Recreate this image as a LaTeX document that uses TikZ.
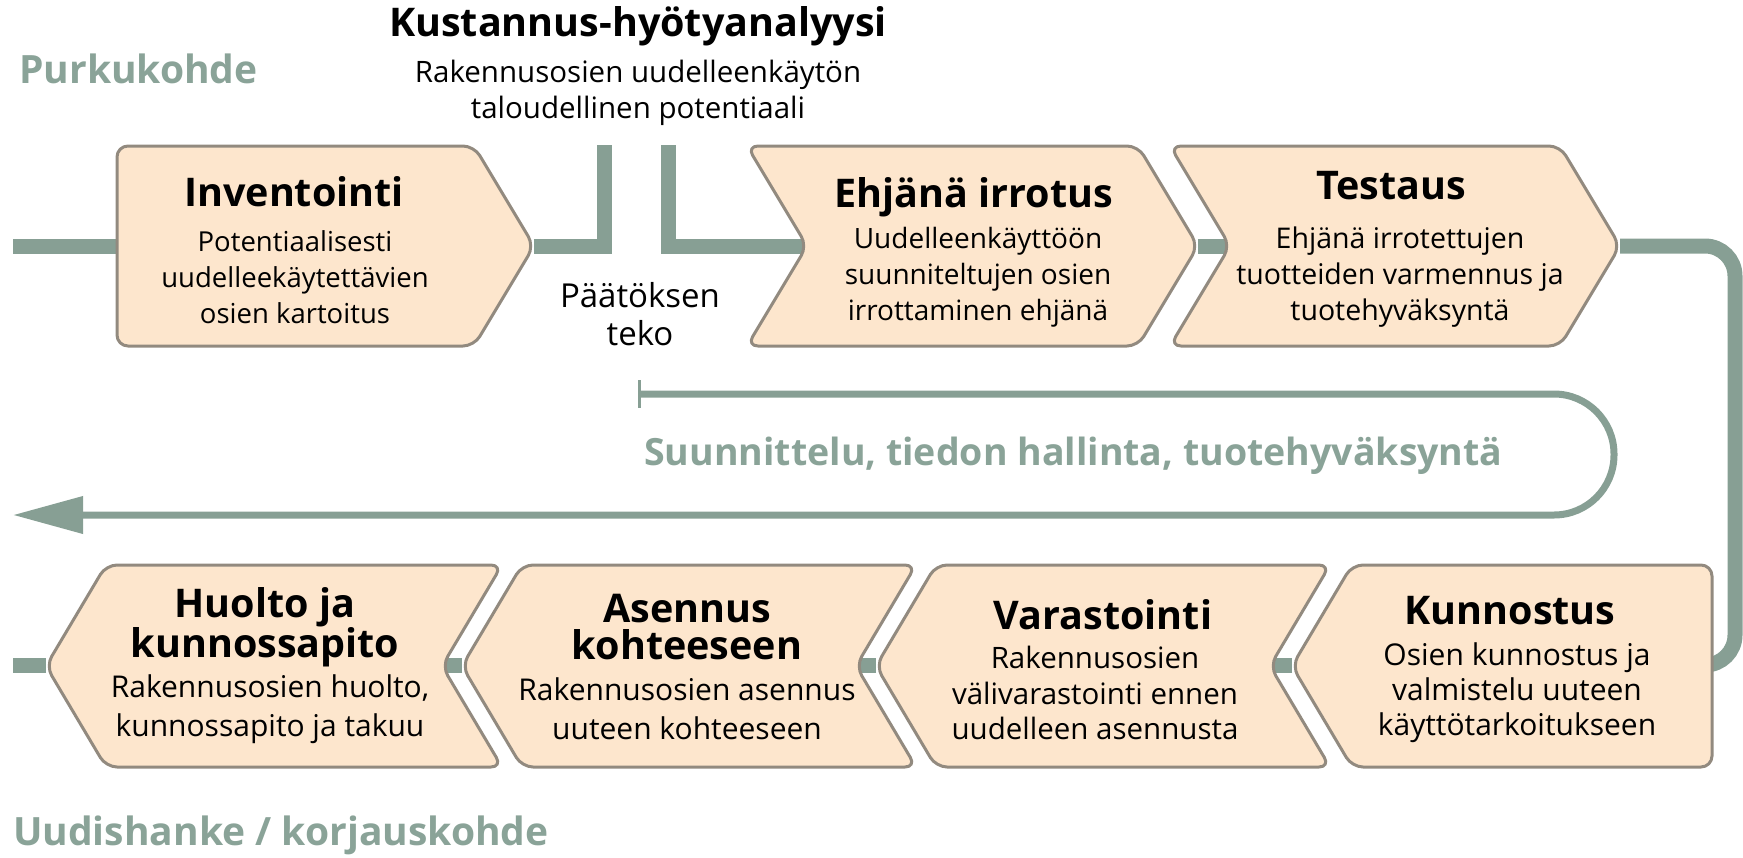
\documentclass[tikz,border=0pt]{standalone}
\usepackage{fontspec}
\setmainfont{Open Sans}
\usetikzlibrary{arrows.meta}
\definecolor{peach}{HTML}{FDE6CD}
\definecolor{edge}{HTML}{928A7F}
\definecolor{flow}{HTML}{879F94}
\definecolor{label}{HTML}{8AA398}
\begin{document}
\begin{tikzpicture}[x=1pt,y=-1pt,
  box/.style={fill=peach,draw=edge,line width=3pt,rounded corners=11pt},
  flowline/.style={draw=flow,line width=15pt,line join=miter},
  thinflow/.style={draw=flow,line width=7pt},
  ttl/.style={font=\fontsize{39.5}{37}\selectfont\bfseries,align=center,inner sep=0pt},
  body/.style={align=center,inner sep=0pt},
  side/.style={font=\fontsize{39}{44}\selectfont\bfseries,text=label,inner sep=0pt,anchor=west},
]
\useasboundingbox (0,0) rectangle (1743,857);
% ---------- coordinates ----------
\coordinate (inL) at (13,246);
\coordinate (invIn) at (130,246);
\coordinate (invT) at (534,246);
\coordinate (barA) at (604,246);
\coordinate (barAt) at (604,145);
\coordinate (barBt) at (668,145);
\coordinate (barB) at (668,246);
\coordinate (ehjN) at (807,246);
\coordinate (ehjT) at (1198,246);
\coordinate (tesN) at (1230,246);
\coordinate (tesT) at (1620,246);
\coordinate (loopA) at (1735,246);
\coordinate (loopB) at (1735,665);
\coordinate (kunR) at (1690,665);
\coordinate (kunT) at (1292,665);
\coordinate (varN) at (1270,665);
\coordinate (varT) at (876,665);
\coordinate (asnN) at (856,665);
\coordinate (asnT) at (462,665);
\coordinate (huoN) at (442,665);
\coordinate (huoT) at (46,665);
\coordinate (outL) at (13,665);
% ---------- flow lines ----------
\draw[flowline] (inL) -- (invIn);
\draw[flowline] (invT) -- (barA) -- (barAt);
\draw[flowline] (barBt) -- (barB) -- (ehjN);
\draw[flowline] (ehjT) -- (tesN);
\draw[flowline,rounded corners=30pt] (tesT) -- (loopA) -- (loopB) -- (kunR);
\draw[flowline] (kunT) -- (varN);
\draw[flowline] (varT) -- (asnN);
\draw[flowline] (asnT) -- (huoN);
\draw[flowline] (huoT) -- (outL);
% ---------- boxes ----------
\path[box] (117,146) -- (474,146) -- (534,246) -- (474,346) -- (117,346) -- cycle;
\path[box] (747,146) -- (1138,146) -- (1198,246) -- (1138,346) -- (747,346) -- (807,246) -- cycle;
\path[box] (1170,146) -- (1560,146) -- (1620,246) -- (1560,346) -- (1170,346) -- (1230,246) -- cycle;
\path[box] (46,666) -- (106,565) -- (502,565) -- (442,666) -- (502,767) -- (106,767) -- cycle;
\path[box] (462,666) -- (522,565) -- (916,565) -- (856,666) -- (916,767) -- (522,767) -- cycle;
\path[box] (876,666) -- (936,565) -- (1330,565) -- (1270,666) -- (1330,767) -- (936,767) -- cycle;
\path[box] (1292,666) -- (1352,565) -- (1712,565) -- (1712,767) -- (1352,767) -- cycle;
% ---------- box texts ----------
\node[ttl] (invH) at (294,192) {Inventointi};
\node[body,font=\fontsize{27.5}{36}\selectfont] (invB) at (295,277) {Potentiaalisesti\\uudelleekäytettävien\\osien kartoitus};
\node[ttl] (ehjH) at (974,197) {Ehjänä irrotus};
\node[body,font=\fontsize{28}{36}\selectfont] (ehjB) at (978,277) {Uudelleenkäyttöön\\suunniteltujen osien\\irrottaminen ehjänä};
\node[ttl] (tesH) at (1391,186) {Testaus};
\node[body,font=\fontsize{28.5}{36}\selectfont] (tesB) at (1400,277) {Ehjänä irrotettujen\\tuotteiden varmennus ja\\tuotehyväksyntä};
\node[ttl] (huoH) at (265,627) {Huolto ja\\kunnossapito};
\node[body,font=\fontsize{30}{39}\selectfont] (huoB) at (270,709) {Rakennusosien huolto,\\kunnossapito ja takuu};
\node[ttl] (asnH) at (687,627) {Asennus\\kohteeseen};
\node[body,font=\fontsize{30}{39}\selectfont] (asnB) at (687,709) {Rakennusosien asennus\\uuteen kohteeseen};
\node[ttl] (varH) at (1103,615) {Varastointi};
\node[body,font=\fontsize{29.5}{35.5}\selectfont] (varB) at (1095,693) {Rakennusosien\\välivarastointi ennen\\uudelleen asennusta};
\node[ttl] (kunH) at (1510,611) {Kunnostus};
\node[body,font=\fontsize{30}{35}\selectfont] (kunB) at (1517,693) {Osien kunnostus ja\\valmistelu uuteen\\käyttötarkoitukseen};
% ---------- decision ----------
\node[ttl] (kha) at (638,26) {Kustannus-hyötyanalyysi};
\node[body,font=\fontsize{29.5}{36}\selectfont] (khaB) at (638,93) {Rakennusosien uudelleenkäytön\\taloudellinen potentiaali};
\node[body,font=\fontsize{33}{38}\selectfont] (pt) at (640,314) {Päätöksen\\teko};
% ---------- side labels ----------
\node[side] (purku) at (19,69) {Purkukohde};
\node[side] (uudis) at (13,835) {Uudishanke / korjauskohde};
% ---------- information loop ----------
\coordinate (sStart) at (639,394);
\coordinate (sTop) at (639,380);
\coordinate (sBot) at (639,408);
\coordinate (sR1) at (1614,394);
\coordinate (sR2) at (1614,515);
\coordinate (sEnd) at (13,515);
\draw[draw=flow,line width=3pt] (sTop) -- (sBot);
\draw[thinflow,rounded corners=60pt,-{Triangle[length=70pt,width=36pt]}] (sStart) -- (sR1) -- (sR2) -- (sEnd);
\node[font=\fontsize{37.5}{40}\selectfont\bfseries,text=label,inner sep=0pt,anchor=west] (suun) at (644,456) {Suunnittelu, tiedon hallinta, tuotehyväksyntä};
\end{tikzpicture}
\end{document}
